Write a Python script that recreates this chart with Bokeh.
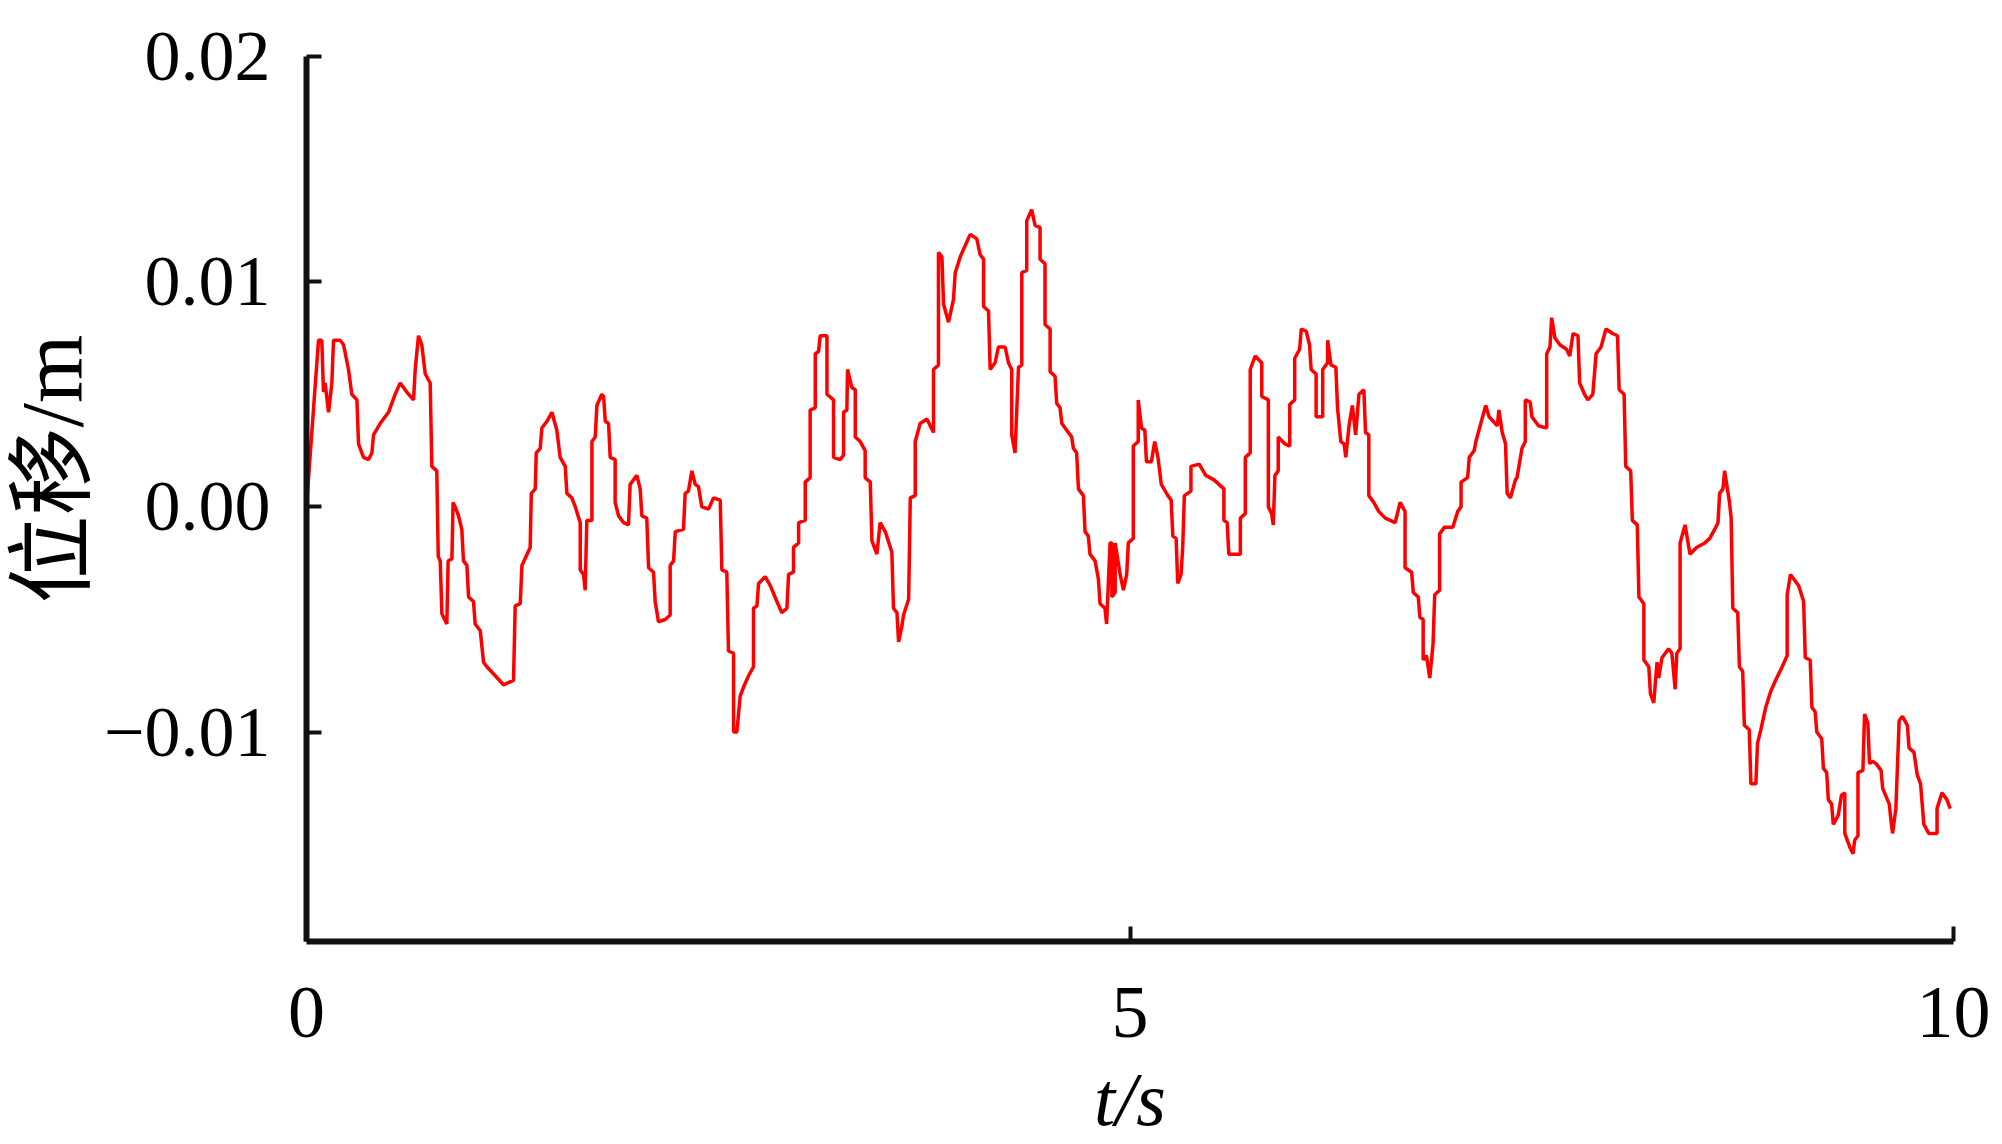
from bokeh.plotting import figure
from bokeh.models import Range1d, FixedTicker, Title
from bokeh.embed import file_html
from bokeh.resources import INLINE

# ---- data: (time [s], displacement [m]), by segment ----
seg_0_to_1_7 = [
    (0.000, 0.0), (0.032, 0.0033), (0.073, 0.0074), (0.093, 0.0074), (0.103, 0.0051),
    (0.113, 0.0055), (0.134, 0.0042), (0.154, 0.0055), (0.164, 0.0074), (0.204, 0.0074),
    (0.225, 0.0072), (0.255, 0.0061), (0.275, 0.0050), (0.306, 0.00475), (0.316, 0.0028),
    (0.346, 0.0022), (0.377, 0.0021), (0.397, 0.0024), (0.407, 0.0032), (0.447, 0.0037),
    (0.498, 0.0042), (0.538, 0.0050), (0.569, 0.0055), (0.609, 0.0051), (0.650, 0.00475),
    (0.660, 0.0061), (0.680, 0.0076), (0.700, 0.0072), (0.721, 0.0059), (0.751, 0.0055),
    (0.761, 0.0018), (0.791, 0.0016), (0.800, -0.0022), (0.812, -0.0024), (0.822, -0.00475),
    (0.852, -0.0052), (0.860, -0.0024), (0.883, -0.0023), (0.890, 0.0002), (0.903, 0.0),
    (0.923, -0.0004), (0.943, -0.0010), (0.953, -0.0024), (0.974, -0.0026), (0.984, -0.0040),
    (1.014, -0.0042), (1.024, -0.0052), (1.055, -0.0055), (1.075, -0.0069), (1.095, -0.0071),
    (1.146, -0.0075), (1.196, -0.0079), (1.257, -0.0077), (1.267, -0.0044), (1.298, -0.0043),
    (1.308, -0.0026), (1.358, -0.0018), (1.365, 0.0006), (1.389, 0.0008), (1.395, 0.0024),
    (1.419, 0.0026), (1.429, 0.0035), (1.460, 0.0038), (1.490, 0.0042), (1.520, 0.0034),
    (1.540, 0.0022), (1.571, 0.0018), (1.581, 0.0006), (1.611, 0.0004), (1.632, 0.0),
    (1.662, -0.0007), (1.662, -0.0028),
]
seg_1_7_to_3_3 = [
    (1.682, -0.0030), (1.692, -0.0037), (1.702, -0.0006), (1.733, -0.0006), (1.733, 0.0029),
    (1.753, 0.0031), (1.763, 0.0045), (1.793, 0.0050), (1.804, 0.0049), (1.814, 0.0038),
    (1.834, 0.0037), (1.844, 0.0022), (1.874, 0.0021), (1.874, 0.0002), (1.895, -0.0004),
    (1.925, -0.0007), (1.955, -0.0008), (1.965, 0.0010), (2.006, 0.0014), (2.026, 0.0008),
    (2.036, -0.0004), (2.066, -0.0005), (2.077, -0.0027), (2.107, -0.0029), (2.117, -0.0042),
    (2.137, -0.0051), (2.178, -0.0050), (2.208, -0.0048), (2.208, -0.0026), (2.229, -0.0024),
    (2.239, -0.0011), (2.289, -0.0010), (2.299, 0.0006), (2.319, 0.0007), (2.340, 0.0016),
    (2.360, 0.0010), (2.380, 0.0009), (2.400, 0.0000), (2.441, -0.0001), (2.471, 0.0004),
    (2.512, 0.0003), (2.522, -0.0028), (2.552, -0.0029), (2.562, -0.0064), (2.593, -0.0065),
    (2.593, -0.0100), (2.613, -0.0100), (2.633, -0.0084), (2.654, -0.0080), (2.684, -0.0075),
    (2.714, -0.0071), (2.714, -0.0045), (2.735, -0.0044), (2.745, -0.0034), (2.785, -0.0031),
    (2.816, -0.0035), (2.856, -0.0042), (2.886, -0.0047), (2.917, -0.0045), (2.927, -0.0030),
    (2.957, -0.0029), (2.957, -0.0018), (2.988, -0.0016), (2.988, -0.0007), (3.028, -0.0006),
    (3.028, 0.0011), (3.058, 0.0013), (3.058, 0.0043), (3.089, 0.0044), (3.089, 0.0068),
    (3.109, 0.0069), (3.119, 0.0076), (3.160, 0.0076), (3.160, 0.0050), (3.200, 0.00475),
    (3.200, 0.0022), (3.241, 0.0021), (3.261, 0.0023), (3.261, 0.0042), (3.281, 0.0043),
    (3.285, 0.0061),
]
seg_3_3_to_5_0 = [
    (3.311, 0.0053), (3.332, 0.0052), (3.332, 0.0031), (3.362, 0.0029), (3.392, 0.0025),
    (3.392, 0.0013), (3.423, 0.0011), (3.433, -0.0015), (3.463, -0.0021), (3.483, -0.0007),
    (3.514, -0.0011), (3.554, -0.0020), (3.564, -0.0045), (3.585, -0.0047), (3.595, -0.0060),
    (3.615, -0.0053), (3.625, -0.0048), (3.656, -0.0041), (3.666, 0.0004), (3.696, 0.0005),
    (3.696, 0.0029), (3.726, 0.0037), (3.767, 0.0039), (3.807, 0.0033), (3.807, 0.0061),
    (3.837, 0.0063), (3.837, 0.0113), (3.858, 0.0111), (3.868, 0.0090), (3.898, 0.0082),
    (3.928, 0.0092), (3.939, 0.0104), (3.969, 0.0111), (3.999, 0.0116), (4.030, 0.0121),
    (4.070, 0.0119), (4.090, 0.0112), (4.111, 0.0110), (4.111, 0.0089), (4.141, 0.0087),
    (4.151, 0.0061), (4.181, 0.0064), (4.201, 0.0071), (4.242, 0.0071), (4.262, 0.0064),
    (4.282, 0.0061), (4.282, 0.0032), (4.302, 0.0024), (4.323, 0.0062), (4.343, 0.0063),
    (4.343, 0.0104), (4.373, 0.0105), (4.373, 0.0127), (4.403, 0.0132), (4.424, 0.0125),
    (4.454, 0.0124), (4.454, 0.0110), (4.484, 0.0108), (4.484, 0.0081), (4.515, 0.0079),
    (4.515, 0.0060), (4.545, 0.0058), (4.555, 0.0046), (4.575, 0.0044), (4.586, 0.0037),
    (4.626, 0.0033), (4.646, 0.0031), (4.656, 0.0026), (4.676, 0.0024), (4.687, 0.0008),
    (4.717, 0.0005), (4.727, -0.0011), (4.747, -0.0013), (4.757, -0.0021), (4.788, -0.0024),
    (4.808, -0.0032), (4.818, -0.0043), (4.848, -0.0045), (4.858, -0.0052), (4.879, -0.0016),
    (4.890, -0.0016), (4.890, -0.0040), (4.910, -0.0038), (4.910, -0.0016), (4.940, -0.0030),
    (4.960, -0.0037), (4.980, -0.0030), (4.990, -0.0016),
]
seg_5_0_to_6_7 = [
    (5.02, -0.0014), (5.02, 0.0027), (5.05, 0.0029), (5.05, 0.00475), (5.07, 0.0035),
    (5.09, 0.0034), (5.10, 0.0020), (5.13, 0.0020), (5.15, 0.0029), (5.17, 0.0022),
    (5.19, 0.0010), (5.23, 0.0005), (5.25, 0.0003), (5.26, -0.0013), (5.28, -0.0014),
    (5.29, -0.0034), (5.31, -0.0030), (5.32, -0.0018), (5.33, 0.0005), (5.37, 0.0007),
    (5.37, 0.0018), (5.42, 0.0019), (5.46, 0.0014), (5.51, 0.0012), (5.57, 0.0008),
    (5.57, -0.0006), (5.59, -0.0007), (5.60, -0.0021), (5.67, -0.0021), (5.67, -0.0005),
    (5.70, -0.0003), (5.70, 0.0022), (5.73, 0.0024), (5.73, 0.0061), (5.76, 0.0067),
    (5.80, 0.0064), (5.80, 0.0049), (5.84, 0.00475), (5.84, 0.0000), (5.86, -0.0003),
    (5.87, -0.0008), (5.88, 0.0014), (5.90, 0.0016), (5.90, 0.0031), (5.94, 0.0028),
    (5.97, 0.0027), (5.97, 0.00455), (6.00, 0.00475), (6.00, 0.0066), (6.03, 0.0070),
    (6.04, 0.0079), (6.07, 0.0078), (6.09, 0.0072), (6.10, 0.0061), (6.13, 0.0059),
    (6.13, 0.0040), (6.17, 0.0040), (6.17, 0.0061), (6.20, 0.0064), (6.20, 0.0074),
    (6.22, 0.0063), (6.25, 0.0062), (6.26, 0.0044), (6.28, 0.0029), (6.30, 0.0028),
    (6.31, 0.0022), (6.33, 0.0036), (6.35, 0.0045), (6.37, 0.0032), (6.39, 0.0050),
    (6.42, 0.0052), (6.43, 0.0033), (6.45, 0.0032), (6.45, 0.0005), (6.48, 0.0002),
    (6.51, -0.0002), (6.55, -0.0005), (6.61, -0.0007), (6.64, 0.0002), (6.67, -0.0002),
    (6.67, -0.0027),
]
seg_6_7_to_8_2 = [
    (6.71, -0.0029), (6.72, -0.0038), (6.75, -0.0040), (6.76, -0.0049), (6.78, -0.0050),
    (6.78, -0.0068), (6.80, -0.0066), (6.82, -0.0076), (6.84, -0.0061), (6.85, -0.0039),
    (6.88, -0.0037), (6.88, -0.0012), (6.91, -0.0009), (6.96, -0.0009), (6.99, -0.0002),
    (7.01, 0.0000), (7.01, 0.0011), (7.05, 0.0013), (7.06, 0.0022), (7.09, 0.0025),
    (7.10, 0.0029), (7.13, 0.0037), (7.16, 0.0045), (7.18, 0.0040), (7.23, 0.0036),
    (7.24, 0.0043), (7.26, 0.0033), (7.28, 0.0028), (7.29, 0.0006), (7.31, 0.0004),
    (7.34, 0.0012), (7.35, 0.0013), (7.38, 0.0026), (7.40, 0.0029), (7.40, 0.00475),
    (7.43, 0.00465), (7.44, 0.0040), (7.48, 0.0036), (7.53, 0.0035), (7.53, 0.0068),
    (7.55, 0.0071), (7.56, 0.0084), (7.58, 0.0075), (7.61, 0.0072), (7.65, 0.0070),
    (7.67, 0.0067), (7.69, 0.0077), (7.72, 0.0076), (7.73, 0.0055), (7.76, 0.0050),
    (7.78, 0.00475), (7.81, 0.0050), (7.83, 0.0068), (7.86, 0.0071), (7.89, 0.0079),
    (7.93, 0.0077), (7.96, 0.0076), (7.97, 0.0052), (8.00, 0.0050), (8.01, 0.0018),
    (8.04, 0.0016), (8.05, -0.0006), (8.08, -0.0008), (8.09, -0.0040), (8.12, -0.0043),
    (8.12, -0.0068), (8.15, -0.0071), (8.16, -0.0083), (8.18, -0.0087), (8.20, -0.0069),
]
seg_8_2_to_10 = [
    (8.21, -0.0076), (8.23, -0.0067), (8.27, -0.0063), (8.29, -0.0065), (8.31, -0.0081),
    (8.32, -0.0065), (8.34, -0.0063), (8.34, -0.0016), (8.37, -0.0008), (8.40, -0.0021),
    (8.44, -0.0018), (8.49, -0.0016), (8.52, -0.0014), (8.55, -0.0010), (8.57, -0.0007),
    (8.58, 0.0006), (8.60, 0.0008), (8.61, 0.0016), (8.64, 0.0002), (8.65, -0.0005),
    (8.66, -0.0045), (8.69, -0.0047), (8.70, -0.0071), (8.72, -0.0073), (8.73, -0.0097),
    (8.76, -0.0099), (8.77, -0.0123), (8.80, -0.0123), (8.81, -0.0105), (8.83, -0.0099),
    (8.86, -0.0089), (8.89, -0.0082), (8.92, -0.0077), (8.96, -0.0071), (8.99, -0.0066),
    (8.99, -0.0039), (9.01, -0.0030), (9.03, -0.0032), (9.06, -0.0035), (9.09, -0.0042),
    (9.10, -0.0067), (9.13, -0.0068), (9.14, -0.0089), (9.16, -0.0091), (9.17, -0.0100),
    (9.20, -0.0103), (9.21, -0.0116), (9.23, -0.0118), (9.24, -0.0130), (9.26, -0.0132),
    (9.27, -0.0141), (9.30, -0.0137), (9.32, -0.0128), (9.34, -0.0127), (9.34, -0.0145),
    (9.37, -0.0151), (9.39, -0.0154), (9.40, -0.0148), (9.42, -0.0146), (9.42, -0.0118),
    (9.45, -0.0117), (9.46, -0.0092), (9.48, -0.0096), (9.49, -0.0114), (9.51, -0.0113),
    (9.53, -0.0114), (9.56, -0.0117), (9.57, -0.0125), (9.61, -0.0132), (9.62, -0.0139),
    (9.63, -0.0145), (9.65, -0.0134), (9.67, -0.0095), (9.69, -0.0093), (9.72, -0.0097),
    (9.73, -0.0107), (9.76, -0.0109), (9.78, -0.0119), (9.80, -0.0123), (9.82, -0.0141),
    (9.85, -0.0145), (9.90, -0.0145), (9.90, -0.0134), (9.93, -0.0127), (9.96, -0.0130),
    (9.98, -0.0134),
]

x_ticks = [0, 5, 10]
x_tick_labels = ["0", "5", "10"]
y_ticks = [-0.01, 0.0, 0.01, 0.02]
y_tick_labels = ["\u22120.01", "0.00", "0.01", "0.02"]
x_title = "t/s"
y_title = "位移/m"

segments = [seg_0_to_1_7, seg_1_7_to_3_3, seg_3_3_to_5_0,
            seg_5_0_to_6_7, seg_6_7_to_8_2, seg_8_2_to_10]
time_s = [pt[0] for seg in segments for pt in seg]
disp_m = [pt[1] for seg in segments for pt in seg]

SERIF = "Liberation Serif"

p = figure(width=1992, height=1144, output_backend="svg", toolbar_location=None,
           x_range=Range1d(0, 10), y_range=Range1d(-0.0193, 0.02),
           min_border_left=306, min_border_right=39,
           min_border_top=56, min_border_bottom=203)
p.background_fill_color = "white"
p.border_fill_color = "white"
p.outline_line_color = None
p.xgrid.visible = False
p.ygrid.visible = False

p.line(time_s, disp_m, line_color="#ff0000", line_width=3.5)

for ax in (p.xaxis[0], p.yaxis[0]):
    ax.axis_line_width = 6
    ax.axis_line_color = "#111111"
    ax.major_tick_line_width = 4
    ax.major_tick_line_color = "#111111"
    ax.major_tick_in = 15
    ax.major_tick_out = 0
    ax.minor_tick_line_color = None
    ax.major_label_text_font = SERIF
    ax.major_label_text_color = "black"
    ax.axis_label_text_color = "black"

p.xaxis.ticker = FixedTicker(ticks=x_ticks)
p.xaxis.major_label_overrides = dict(zip(x_ticks, x_tick_labels))
p.xaxis.major_label_text_font_size = "74px"
p.xaxis.major_label_standoff = 46
p.xaxis.axis_label = x_title
p.xaxis.axis_label_text_font = SERIF
p.xaxis.axis_label_text_font_style = "italic"
p.xaxis.axis_label_text_font_size = "76px"
p.xaxis.axis_label_standoff = 17

p.yaxis.ticker = FixedTicker(ticks=y_ticks)
p.yaxis.major_label_overrides = dict(zip(y_ticks, y_tick_labels))
p.yaxis.major_label_text_font_size = "72px"
p.yaxis.major_label_standoff = 36

# y title as a side title, anchored from the top of the frame like the reference
p.add_layout(Title(text=y_title, align="right", offset=278, standoff=0,
                   text_font="Liberation Serif, Noto Sans CJK SC",
                   text_font_size="88px", text_font_style="normal",
                   text_color="black"), "left")

open("out.html", "w").write(file_html(p, INLINE))
